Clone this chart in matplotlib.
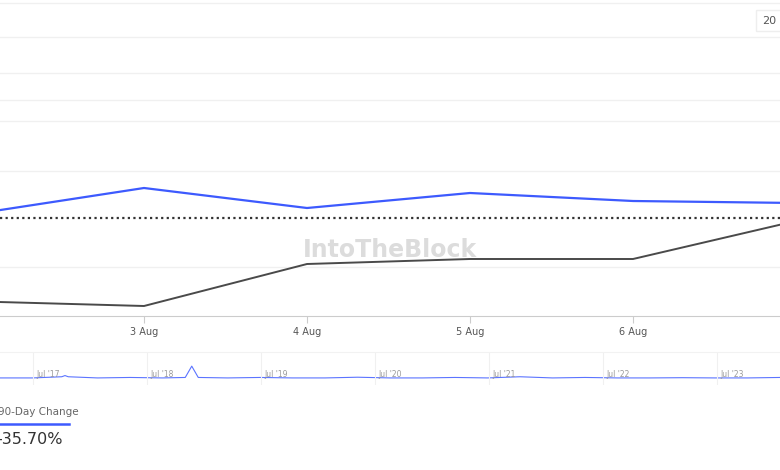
import matplotlib
matplotlib.use("Agg")
import matplotlib.pyplot as plt

days = [2, 3, 4, 5, 6, 7]
tick_labels = ["3 Aug", "4 Aug", "5 Aug", "6 Aug"]
blue_series = [103, 128, 108, 123, 115, 113]
dark_series = [14.5, 10, 52, 57, 57, 95]
reference_level = 98
grid_levels = [49, 145, 195, 216, 243, 279, 313]

nav_labels = ["Jul '17", "Jul '18", "Jul '19", "Jul '20", "Jul '21", "Jul '22", "Jul '23"]
nav_x = [0, 10, 19, 20, 21, 30, 40, 50, 57, 59, 61, 70, 80, 90, 100, 110, 120, 130, 140, 150, 160, 170, 180, 190, 200, 210, 220, 230, 240]
nav_y = [1, 1, 1.5, 2, 1.5, 1, 1.2, 1, 1.2, 6, 1.2, 1, 1.2, 1, 1, 1.3, 1, 1, 1.2, 1, 1.5, 1, 1.2, 1, 1, 1.1, 1, 1, 1.2]

W, H = 780, 470
fig = plt.figure(figsize=(7.8, 4.7), dpi=100)

ax = fig.add_axes([0, 1 - 316 / H, 1, 316 / H])
for g in grid_levels:
    ax.axhline(g, color="#f0f0f0", lw=1, zorder=0)
ax.axhline(reference_level, color="#333333", lw=1.6, ls=(0, (1, 1.5)), zorder=2)
ax.plot(days, dark_series, color="#4a4a4a", lw=1.4, zorder=3)
ax.plot(days, blue_series, color="#3d5afe", lw=1.6, zorder=4)
ax.set_xlim(2 + 19 / 163, 2 + 799 / 163)
ax.set_ylim(0, 316)
ax.set_xticks([3, 4, 5, 6])
ax.set_xticklabels(tick_labels, fontsize=7, color="#555555")
ax.tick_params(axis="x", length=5, color="#cccccc", pad=3)
ax.set_yticks([])
for s in ["top", "left", "right"]:
    ax.spines[s].set_visible(False)
ax.spines["bottom"].set_color("#cccccc")
ax.text(0.5, 0.21, "IntoTheBlock", transform=ax.transAxes, fontsize=17,
        color="#dcdcdc", ha="center", va="center", fontweight="bold", zorder=1)
ax.text(0.995, 0.935, "20", transform=ax.transAxes, fontsize=8, color="#555555",
        ha="right", va="center",
        bbox=dict(boxstyle="square,pad=0.5", fc="white", ec="#eeeeee"))

nav = fig.add_axes([0, 1 - 385 / H, 1, 33 / H])
nav.plot(nav_x, nav_y, color="#5b74ff", lw=0.8)
nav.set_xlim(0, 240)
nav.set_ylim(-2, 12)
for i, lab in enumerate(nav_labels):
    xp = 33 + i * 114
    xv = xp / 780 * 240
    nav.axvline(xv, color="#f0f0f0", lw=0.8)
    nav.text(xv + 1, 1.6, lab, fontsize=5.5, color="#999999")
nav.axis("off")
fig.add_artist(plt.Line2D([0, 1], [1 - 352 / H] * 2, color="#f2f2f2", lw=0.8))

fig.text(-2 / W, 1 - 412 / H, "90-Day Change", fontsize=7.5, color="#666666", va="center")
fig.add_artist(plt.Line2D([0, 69 / W], [1 - 424 / H] * 2, color="#3d5afe", lw=1.8))
fig.text(-4 / W, 1 - 440 / H, "-35.70%", fontsize=11.5, color="#333333", va="center")

fig.savefig("out.png", dpi=100, facecolor="white")
